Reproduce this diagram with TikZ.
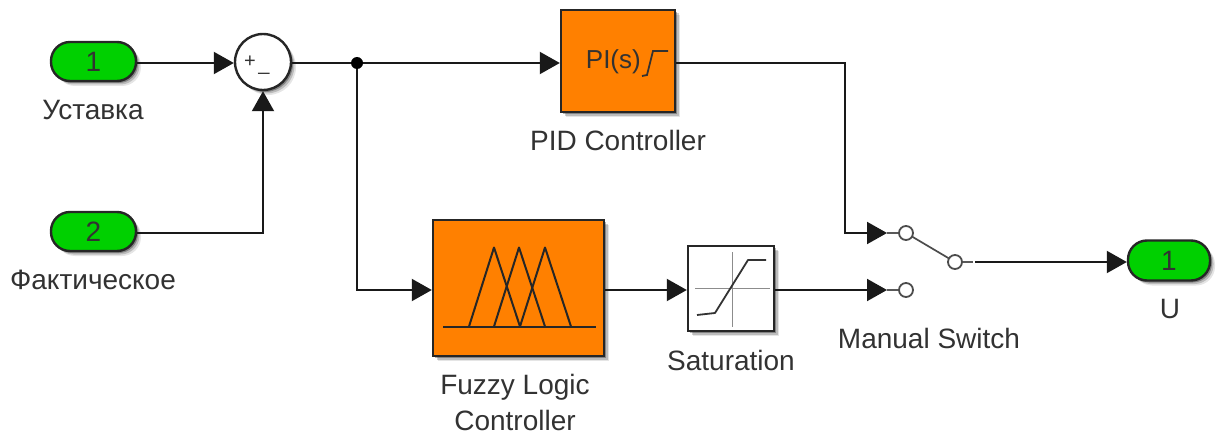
\documentclass[tikz,border=0pt]{standalone}
\usepackage{fontspec}
\setmainfont{Liberation Sans}
\usetikzlibrary{arrows.meta,shadows}
\definecolor{simgreen}{RGB}{0,208,0}
\definecolor{simorange}{RGB}{255,128,0}
\definecolor{labelgray}{RGB}{50,50,50}
\tikzset{
  softshadow/.style={
    drop shadow={shadow xshift=5pt,shadow yshift=-5pt,fill=black,opacity=.10},
    drop shadow={shadow xshift=3.5pt,shadow yshift=-3.5pt,fill=black,opacity=.18},
    drop shadow={shadow xshift=2pt,shadow yshift=-2pt,fill=black,opacity=.3}},
  port/.style={softshadow,draw=black!85,line width=2.4pt,fill=simgreen,rounded corners=19pt,
    minimum width=85pt,minimum height=39pt,inner sep=0pt,text=labelgray,font=\fontsize{28}{30}\selectfont},
  bblock/.style={softshadow,draw=black!85,line width=2.4pt,fill=simorange,inner sep=0pt},
  wblock/.style={softshadow,draw=black!85,line width=2.4pt,fill=white,inner sep=0pt},
  sumblock/.style={softshadow,circle,draw=black!85,line width=2.4pt,fill=white,inner sep=0pt,minimum size=56pt},
  lbl/.style={text=labelgray,font=\fontsize{28}{30}\selectfont,inner sep=0pt,align=center},
  wire/.style={line width=2pt,draw=black!90},
  sig/.style={wire,-{Triangle[length=20pt,width=22pt]}},
  contact/.style={circle,draw=black!70,line width=1.8pt,fill=white,inner sep=0pt,minimum width=14pt,minimum height=13pt},
  stub/.style={line width=1.7pt,draw=black!65},
  icon/.style={line width=2pt,draw=black!85},
}
\begin{document}
\begin{tikzpicture}[x=1pt,y=-1pt]
\useasboundingbox (0,0) rectangle (1221,436);
% blocks
\node[port] (in1) at (93.5,61.5) {1};
\node[port] (in2) at (93.5,231.5) {2};
\node[sumblock] (sum) at (263,62) {};
\node[bblock,minimum width=114pt,minimum height=102pt] (pid) at (618,61) {};
\node[bblock,minimum width=171pt,minimum height=136pt] (fuzzy) at (518.5,288) {};
\node[wblock,minimum width=86pt,minimum height=85pt] (sat) at (731,288.5) {};
\node[port,minimum width=82pt,minimum height=40pt] (out) at (1169,260.5) {1};
% switch
\node[contact] (c1) at (906,233) {};
\node[contact] (c2) at (906,290) {};
\node[contact] (c3) at (955,262) {};
\coordinate (p1) at (887,233);
\coordinate (p2) at (887,290);
\coordinate (p3) at (973,262);
% labels
\node[lbl] (l1) at (93,110) {Уставка};
\node[lbl] (l2) at (93,280) {Фактическое};
\node[lbl] (l3) at (618,140) {PID Controller};
\node[lbl,font=\fontsize{28}{36}\selectfont] (l4) at (515,402) {Fuzzy Logic\\Controller};
\node[lbl] (l5) at (731,360) {Saturation};
\node[lbl] (l6) at (929,338) {Manual Switch};
\node[lbl] (l7) at (1170,309) {U};
\node[lbl,font=\fontsize{20}{24}\selectfont] (plus) at (250,62) {+};
\node[lbl,font=\fontsize{20}{24}\selectfont] (minus) at (264,72) {\_};
\node[lbl,font=\fontsize{26}{30}\selectfont,anchor=east] (pis) at (641,62) {PI(s)};
\draw[line width=1.8pt,draw=labelgray] (642,76) -- (647,75) -- (653,51) -- (668,51);
% connectors
\coordinate (j) at (357,63);
\coordinate (k1) at (357,290);
\coordinate (k2) at (845,63);
\coordinate (k3) at (845,233);
\coordinate (k4) at (263,233);
\draw[sig] (in1.east |- j) -- (sum.west |- j);
\draw[wire] (sum.east |- j) -- (j);
\draw[sig] (j) -- (pid.west |- j);
\draw[sig] (j) -- (k1) -- (fuzzy.west |- k1);
\fill (j) circle (6pt);
\draw[sig] (in2.east |- k4) -- (k4) -- (sum.south);
\draw[sig] (pid.east |- k2) -- (k2) -- (k3) -- (p1);
\draw[sig] (fuzzy.east |- k1) -- (sat.west |- k1);
\draw[sig] (sat.east |- k1) -- (p2);
\draw[stub] (p1) -- (c1);
\draw[stub] (p2) -- (c2);
\draw[line width=1.7pt,draw=black!70,shorten <=-1pt,shorten >=-1pt] (c1) -- (c3);
\draw[stub] (c3) -- (p3);
\draw[sig] ([xshift=2pt]p3) -- (out.west |- p3);
% fuzzy icon
\draw[icon] (443,326.5) -- (596,326.5);
\draw[icon,line join=round] (469,326.5) -- (494,247.5) -- (520,326.5);
\draw[icon,line join=round] (494,326.5) -- (519,247.5) -- (545,326.5);
\draw[icon,line join=round] (520,326.5) -- (545,247.5) -- (571,326.5);
% saturation icon
\draw[line width=.9pt,draw=black!45] (732,252) -- (732,327);
\draw[line width=.9pt,draw=black!45] (695,288) -- (770,288);
\draw[line width=1.8pt,draw=black!80,line join=round] (697,315) -- (715,313) -- (748,260) -- (766,260);
\end{tikzpicture}
\end{document}
